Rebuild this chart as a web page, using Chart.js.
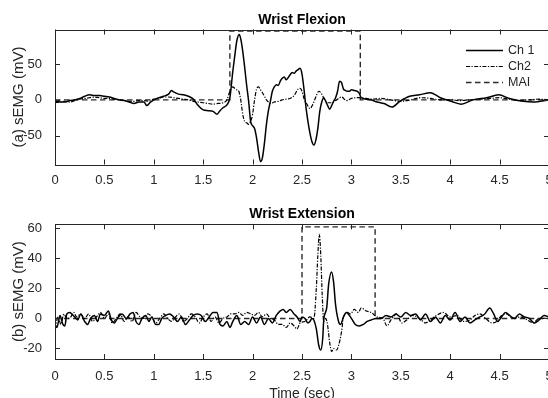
<!DOCTYPE html>
<html>
<head>
<meta charset="utf-8">
<script src="https://cdn.jsdelivr.net/npm/chart.js@4.4.0/dist/chart.umd.min.js"></script>
<style>
html, body { margin: 0; padding: 0; background: #fff; overflow: hidden; width: 548px; height: 398px; }
canvas { position: absolute; left: 0; }
#flexChart { top: 0; }
#extChart { top: 195px; }
</style>
</head>
<body>
<canvas id="flexChart" width="549" height="195"></canvas>
<canvas id="extChart" width="549" height="205"></canvas>
<script>
// ---- Axis ticks / labels ----
const xTicks = [0, 0.5, 1, 1.5, 2, 2.5, 3, 3.5, 4, 4.5, 5];
const xTickLabels = ['0', '0.5', '1', '1.5', '2', '2.5', '3', '3.5', '4', '4.5', '5'];
const yTicksFlex = [-50, 0, 50];
const yTickLabelsFlex = ['-50', '0', '50'];
const yTicksExt = [-20, 0, 20, 40, 60];
const yTickLabelsExt = ['-20', '0', '20', '40', '60'];
const seriesNames = ['Ch 1', 'Ch2', 'MAI'];

// ---- (a) Wrist Flexion ----
const tFlexCh1 = [
  0, 0.05, 0.1, 0.15, 0.2, 0.25, 0.3, 0.35, 0.4, 0.45,
  0.5, 0.55, 0.6, 0.65, 0.7, 0.75, 0.8, 0.85, 0.9, 0.93,
  0.96, 1, 1.05, 1.1, 1.15, 1.18, 1.2, 1.25, 1.3, 1.35,
  1.4, 1.45, 1.5, 1.55, 1.6, 1.64, 1.67, 1.7, 1.74, 1.77,
  1.8, 1.82, 1.84, 1.865, 1.88, 1.9, 1.92, 1.94, 1.96, 1.98,
  2, 2.02, 2.04, 2.06, 2.08, 2.1, 2.12, 2.14, 2.16, 2.18,
  2.2, 2.22, 2.24, 2.26, 2.28, 2.3, 2.32, 2.34, 2.36, 2.38,
  2.4, 2.42, 2.44, 2.46, 2.48, 2.5, 2.52, 2.54, 2.56, 2.58,
  2.6, 2.62, 2.64, 2.66, 2.68, 2.7, 2.72, 2.74, 2.76, 2.78,
  2.8, 2.82, 2.84, 2.86, 2.88, 2.9, 2.92, 2.94, 2.96, 2.98,
  3, 3.03, 3.06, 3.08, 3.1, 3.15, 3.2, 3.26, 3.33, 3.41,
  3.49, 3.59, 3.69, 3.8, 3.9, 4.01, 4.11, 4.23, 4.37, 4.49,
  4.6, 4.74, 4.84, 5
];
const flexCh1 = [
  -2, -3, -3, -1, 0, 2, 5, 7, 6, 6,
  5, 4, 2, 0, -1, -3, -5, -3, -3, -8,
  -4, 0, 3, 5, 8, 13, 11, 8, 7, 5,
  1, -8, -14, -15, -16, -20, -15, -11, -7, 3,
  40, 62, 82, 91, 85, 68, 45, 20, -2, -30,
  -36, -40, -53, -72, -86, -80, -60, -34, -15, -2,
  12, 18, 21, 20, 26, 30, 32, 28, 31, 35,
  38, 37, 40, 42, 44, 36, 15, -10, -30, -46,
  -58, -63, -56, -40, -16, -3, 3, -2, -8, -13,
  -8, -2, 3, 12, 26, 24, 15, 13, 12, 12,
  14, 13, 12, 9, 3, 1, 0, -3, -5, -10,
  -2, 5, 7, 10, 3, -2, -6, 0, 3, 7,
  2, -2, -3, 0
];
const tFlexCh2 = [
  0, 0.05, 0.1, 0.15, 0.2, 0.25, 0.3, 0.35, 0.4, 0.45,
  0.5, 0.55, 0.6, 0.65, 0.7, 0.75, 0.8, 0.85, 0.9, 0.95,
  1, 1.05, 1.1, 1.15, 1.2, 1.25, 1.3, 1.35, 1.4, 1.45,
  1.5, 1.55, 1.6, 1.65, 1.7, 1.74, 1.77, 1.8, 1.82, 1.84,
  1.86, 1.88, 1.9, 1.92, 1.94, 1.96, 1.98, 2, 2.02, 2.04,
  2.06, 2.08, 2.1, 2.12, 2.14, 2.16, 2.18, 2.22, 2.26, 2.3,
  2.34, 2.38, 2.42, 2.46, 2.48, 2.5, 2.52, 2.55, 2.58, 2.61,
  2.64, 2.67, 2.7, 2.73, 2.76, 2.8, 2.85, 2.9, 2.95, 3,
  3.05, 3.1, 3.15, 3.2, 3.3, 3.4, 3.5, 3.6, 3.7, 3.8,
  3.9, 4, 4.1, 4.2, 4.3, 4.4, 4.5, 4.6, 4.7, 4.8,
  4.9, 5
];
const flexCh2 = [
  -4, -3, -2, -3, -1, 1, 2, 3, 4, 3,
  2, 2, 1, 0, -1, -2, -2, -1, -1, -2,
  1, 2, 4, 4, 3, 2, 1, 0, -2, -3,
  -4, -5, -6, -5, -4, 0, 12, 18, 16, 14,
  12, 0, -20, -30, -32, -34, -30, -20, 0, 15,
  18, 14, 10, 5, 0, -3, -5, -3, -2, 0,
  1, 2, 6, 15, 16, 12, 2, -6, -12, -6,
  4, 12, 8, 0, -4, -4, 0, 4, -1, 2,
  3, 3, 2, 1, 2, 0, -2, 0, 3, 2,
  0, 0, -1, 0, 1, 2, 3, 1, -1, 0,
  1, 0
];
const tFlexMai = [0, 1.77, 1.77, 3.09, 3.09, 5];
const flexMai = [0, 0, 96, 96, 0, 0];

// ---- (b) Wrist Extension ----
const tExtCh1 = [
  0, 0.02, 0.05, 0.08, 0.1, 0.12, 0.15, 0.17, 0.2, 0.23,
  0.26, 0.3, 0.33, 0.36, 0.4, 0.43, 0.46, 0.5, 0.54, 0.57,
  0.6, 0.64, 0.68, 0.72, 0.76, 0.79, 0.82, 0.85, 0.88, 0.92,
  0.95, 0.98, 1.02, 1.05, 1.08, 1.12, 1.16, 1.2, 1.24, 1.28,
  1.32, 1.36, 1.4, 1.44, 1.48, 1.52, 1.56, 1.6, 1.64, 1.67,
  1.7, 1.74, 1.77, 1.8, 1.84, 1.88, 1.92, 1.96, 2, 2.04,
  2.08, 2.12, 2.16, 2.2, 2.24, 2.28, 2.31, 2.34, 2.38, 2.42,
  2.45, 2.48, 2.5, 2.53, 2.56, 2.58, 2.6, 2.62, 2.645, 2.67,
  2.69, 2.71, 2.72, 2.75, 2.77, 2.8, 2.82, 2.84, 2.87, 2.89,
  2.92, 2.95, 2.98, 3.01, 3.04, 3.08, 3.12, 3.16, 3.2, 3.25,
  3.3, 3.35, 3.4, 3.45, 3.5, 3.55, 3.6, 3.65, 3.7, 3.75,
  3.8, 3.85, 3.9, 3.95, 4, 4.05, 4.1, 4.15, 4.2, 4.25,
  4.3, 4.35, 4.4, 4.44, 4.48, 4.52, 4.56, 4.6, 4.65, 4.7,
  4.75, 4.8, 4.85, 4.9, 4.95, 5
];
const extCh1 = [
  -4, -6, 2, -4, -5, 3, 4, 3, 1, -1,
  3, -2, -4, 0, 2, -2, 3, 2, 5, -1,
  -3, 1, 3, 0, 3, 4, -2, -4, 0, 2,
  -2, 1, -4, -4, 0, 2, 3, 1, -2, 1,
  -4, -1, 2, 3, 2, -2, 1, 4, 4, -4,
  -5, -2, -6, -2, 2, -4, -2, -4, 1, -3,
  1, -4, 0, -3, 2, 5, 6, 4, 6, 3,
  1, -2, 1, 0, -3, -2, 0, -1, -7, -18,
  -21, -13, -1, 7, 23, 31, 24, 9, -2, -4,
  1, 4, 2, -1, -4, -5, -4, -2, -1, 0,
  0, 2, 1, 3, 1, 4, 2, 3, -1, 3,
  -2, 1, -3, 2, -1, 4, -2, 1, -3, -1,
  1, 3, 7, 3, -2, 1, 4, 2, 0, 3,
  1, 0, -3, -1, 2, 1
];
const tExtCh2 = [
  0, 0.03, 0.06, 0.09, 0.12, 0.16, 0.19, 0.22, 0.26, 0.3,
  0.34, 0.38, 0.42, 0.46, 0.5, 0.54, 0.58, 0.62, 0.66, 0.7,
  0.74, 0.78, 0.82, 0.86, 0.9, 0.94, 0.98, 1.02, 1.06, 1.1,
  1.14, 1.18, 1.22, 1.26, 1.3, 1.34, 1.38, 1.42, 1.46, 1.5,
  1.54, 1.58, 1.62, 1.66, 1.7, 1.74, 1.78, 1.82, 1.86, 1.9,
  1.94, 1.98, 2.02, 2.06, 2.1, 2.14, 2.18, 2.22, 2.26, 2.3,
  2.34, 2.38, 2.42, 2.45, 2.48, 2.53, 2.58, 2.62, 2.645, 2.66,
  2.675, 2.69, 2.705, 2.72, 2.74, 2.76, 2.78, 2.8, 2.82, 2.85,
  2.87, 2.9, 2.92, 2.96, 2.99, 3.03, 3.07, 3.1, 3.15, 3.2,
  3.26, 3.32, 3.36, 3.4, 3.46, 3.51, 3.56, 3.62, 3.69, 3.75,
  3.8, 3.86, 3.93, 4, 4.07, 4.13, 4.2, 4.25, 4.3, 4.36,
  4.42, 4.47, 4.52, 4.57, 4.64, 4.71, 4.78, 4.84, 4.9, 5
];
const extCh2 = [
  -7, 1, -4, 3, 0, 1, 4, 1, 3, 0,
  3, -2, 1, 4, 0, 3, -3, 0, 3, -2,
  1, -2, 4, 1, 0, 3, 1, -3, 0, 3,
  0, -2, 1, 3, -2, 0, 3, 1, -3, 1,
  3, -2, 1, -3, 0, 1, 3, 3, 4, 2,
  4, 3, 2, 4, 1, 3, 0, -1, -4, -4,
  -6, -3, -5, -7, -3, -2, 1, 0, 20, 42,
  56, 42, 15, -2, 0, -5, -16, -22, -20, -21,
  -18, -9, 1, 4, 3, 6, 4, 7, 5, 4,
  1, 0, -5, -1, 3, -3, -1, 2, 0, -3,
  -1, 2, 4, 1, 2, -2, -1, 2, 3, 0,
  -3, -2, 2, 3, 0, 1, -1, -3, 0, 0
];
const tExtMai = [0, 2.5, 2.5, 3.24, 3.24, 5];
const extMai = [0, 0, 61, 61, 0, 0];

// ---- helpers ----
const axisColor = '#262626';
const family = '"Liberation Sans", Arial, Helvetica, sans-serif';

function pts(t, v) {
  return t.map((x, i) => ({ x: x, y: v[i] }));
}

// MATLAB-style box with inward ticks on all four sides
const frameTicks = {
  id: 'frameTicks',
  afterDatasetsDraw(chart) {
    const { ctx, chartArea: a, scales } = chart;
    ctx.save();
    ctx.strokeStyle = axisColor;
    ctx.lineWidth = 1;
    ctx.setLineDash([]);
    ctx.beginPath();
    scales.x.ticks.forEach(tk => {
      const px = Math.round(scales.x.getPixelForValue(tk.value)) + 0.5;
      ctx.moveTo(px, a.bottom); ctx.lineTo(px, a.bottom - 5);
      ctx.moveTo(px, a.top); ctx.lineTo(px, a.top + 5);
    });
    scales.y.ticks.forEach(tk => {
      const py = Math.round(scales.y.getPixelForValue(tk.value)) + 0.5;
      ctx.moveTo(a.left, py); ctx.lineTo(a.left + 5, py);
      ctx.moveTo(a.right, py); ctx.lineTo(a.right - 5, py);
    });
    ctx.stroke();
    ctx.strokeRect(Math.round(a.left) + 0.5, Math.round(a.top) + 0.5,
                   Math.round(a.right - a.left), Math.round(a.bottom - a.top));
    ctx.restore();
  }
};

// legend drawn inside the top-right of the plot, no box
const insideLegend = {
  id: 'insideLegend',
  afterDraw(chart) {
    const { ctx, chartArea: a } = chart;
    ctx.save();
    ctx.font = '12.5px ' + family;
    ctx.textBaseline = 'middle';
    ctx.textAlign = 'left';
    ctx.fillStyle = axisColor;
    chart.data.datasets.forEach((ds, i) => {
      const y = Math.round(a.top + 20 + i * 16.2) + 0.5;
      ctx.strokeStyle = ds.borderColor;
      ctx.lineWidth = ds.borderWidth;
      ctx.setLineDash(ds.borderDash || []);
      ctx.beginPath();
      ctx.moveTo(a.right - 83, y);
      ctx.lineTo(a.right - 46, y);
      ctx.stroke();
      ctx.fillText(ds.label, a.right - 41, y);
    });
    ctx.restore();
  }
};

function buildChart(id, o) {
  return new Chart(document.getElementById(id), {
    type: 'line',
    data: {
      datasets: [
        { label: seriesNames[0], data: pts(o.t1, o.v1), borderColor: '#000', borderWidth: 1.5 },
        { label: seriesNames[1], data: pts(o.t2, o.v2), borderColor: '#000', borderWidth: 1.2, borderDash: [4, 1.5, 1.2, 1.5] },
        { label: seriesNames[2], data: pts(o.t3, o.v3), borderColor: '#2b2b2b', borderWidth: 1.4, borderDash: [5.5, 3.5],
          cubicInterpolationMode: 'default', tension: 0 }
      ]
    },
    options: {
      responsive: false,
      animation: false,
      devicePixelRatio: 1,
      layout: { padding: 0 },
      elements: {
        point: { radius: 0 },
        line: { cubicInterpolationMode: 'monotone' }
      },
      plugins: {
        legend: { display: false },
        tooltip: { enabled: false },
        title: {
          display: true, text: o.title, fullSize: false, color: '#000',
          font: { family: family, size: 14, weight: 'bold', lineHeight: 1.2 },
          padding: o.titlePad
        }
      },
      scales: {
        x: {
          type: 'linear', min: 0, max: 5,
          grid: { display: false }, border: { display: false },
          afterBuildTicks: s => { s.ticks = xTicks.map(v => ({ value: v })); },
          afterFit: s => { s.height = o.xHeight; s.paddingLeft = 0; s.paddingRight = 0; },
          ticks: {
            autoSkip: false, maxRotation: 0, minRotation: 0, padding: o.xTickPad,
            color: axisColor, font: { family: family, size: 13 },
            callback: (v, i) => xTickLabels[i]
          },
          title: {
            display: !!o.xTitle, text: o.xTitle || '', color: axisColor,
            font: { family: family, size: 14, lineHeight: 1.2 }, padding: { top: 0, bottom: -2.5 }
          }
        },
        y: {
          type: 'linear', min: o.yMin, max: o.yMax,
          grid: { display: false }, border: { display: false },
          afterBuildTicks: s => { s.ticks = o.yTicks.map(v => ({ value: v })); },
          afterFit: s => { s.width = 55; s.paddingTop = 0; s.paddingBottom = 0; },
          ticks: {
            padding: 5, color: axisColor, font: { family: family, size: 13 },
            callback: (v, i) => o.yTickLabels[i]
          },
          title: {
            display: true, text: o.yTitle, color: axisColor,
            font: { family: family, size: 15, lineHeight: 1.2 }, padding: { top: 10, bottom: 0 }
          }
        }
      }
    },
    plugins: o.legend ? [frameTicks, insideLegend] : [frameTicks]
  });
}

buildChart('flexChart', {
  title: 'Wrist Flexion', titlePad: { top: 12, bottom: 0.7 },
  t1: tFlexCh1, v1: flexCh1, t2: tFlexCh2, v2: flexCh2, t3: tFlexMai, v3: flexMai,
  yMin: -90, yMax: 98, yTicks: yTicksFlex, yTickLabels: yTickLabelsFlex,
  yTitle: '(a) sEMG (mV)', xHeight: 30.5, xTickPad: 0, legend: true
});

buildChart('extChart', {
  title: 'Wrist Extension', titlePad: { top: 11.1, bottom: 1.4 },
  t1: tExtCh1, v1: extCh1, t2: tExtCh2, v2: extCh2, t3: tExtMai, v3: extMai,
  yMin: -27, yMax: 62.7, yTicks: yTicksExt, yTickLabels: yTickLabelsExt,
  yTitle: '(b) sEMG (mV)', xHeight: 41, xTickPad: 1.5, xTitle: 'Time (sec)', legend: false
});
</script>
</body>
</html>
